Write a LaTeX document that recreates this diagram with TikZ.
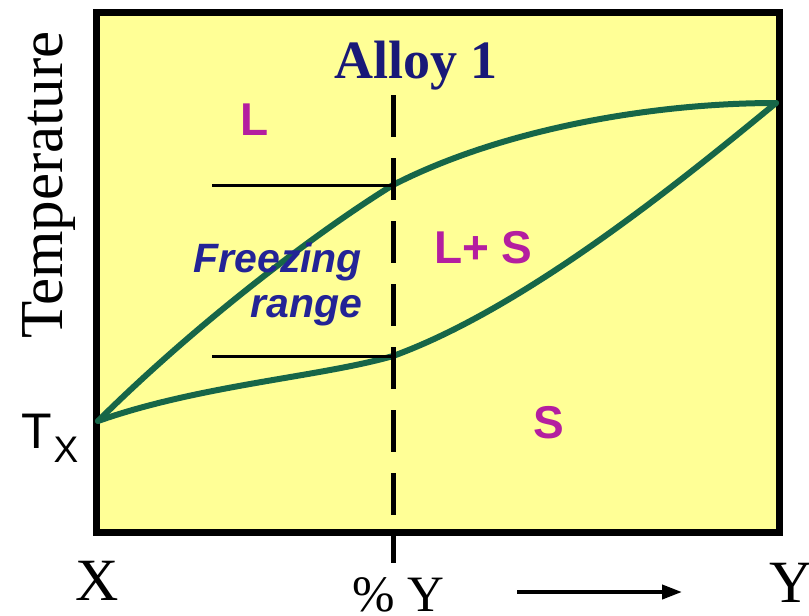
\documentclass[tikz,border=0pt]{standalone}
\usepackage{fontspec}
\setmainfont{Liberation Serif}
\newfontfamily\arialf{Liberation Sans}
\usetikzlibrary{arrows.meta}
\definecolor{boxfill}{RGB}{255,255,150}
\definecolor{curvegreen}{RGB}{22,102,72}
\definecolor{phasemag}{RGB}{180,30,160}
\definecolor{frzblue}{RGB}{35,35,150}
\definecolor{alloyblue}{RGB}{25,25,120}
\begin{document}
\begin{tikzpicture}[x=1pt,y=-1pt,
  lbl/.style={inner sep=0pt, outer sep=0pt},
  curve/.style={curvegreen, line width=6pt, line cap=round, line join=round},
  phase/.style={lbl, anchor=base west, text=phasemag, font=\arialf\bfseries\fontsize{46}{46}\selectfont},
  frz/.style={lbl, anchor=base east, text=frzblue, font=\arialf\bfseries\itshape\fontsize{41}{45}\selectfont},
  axislbl/.style={lbl, font=\fontsize{60}{60}\selectfont}]
\useasboundingbox (0,0) rectangle (809,616);
\coordinate (bl) at (96,532);
\coordinate (tr) at (779,12);
\fill[boxfill] (bl) rectangle (tr);
\draw[line width=7pt] (bl) rectangle (tr);
\coordinate (Tx) at (98,421);
\coordinate (Yt) at (776,103);
\coordinate (Liq) at (393,185);
\coordinate (Sol) at (393,356);
\draw[curve] (Tx) .. controls (200,320) and (320,230) .. (Liq)
                  .. controls (500,130) and (650,103) .. (Yt);
\draw[curve] (Tx) .. controls (200,385) and (320,377) .. (Sol)
                  .. controls (525,308) and (680,182) .. (Yt);
\coordinate (h1) at (212,185);
\coordinate (h2) at (212,356);
\draw[line width=3pt] (h1) -- (Liq);
\draw[line width=3pt] (h2) -- (Sol);
\coordinate (d1) at (393,95);
\coordinate (d2) at (393,563);
\draw[line width=5pt, dash pattern=on 42pt off 21pt] (d1) -- (d2);
\node[lbl, anchor=base, rotate=90, font=\fontsize{61}{61}\selectfont] (temp) at (62,185) {Temperature};
\node[lbl, anchor=base west, font=\arialf\fontsize{50}{50}\selectfont] (tx) at (21,448) {T\kern2pt\raisebox{-14pt}{\fontsize{37}{37}\selectfont X}};
\node[axislbl, anchor=base] (xl) at (97,600) {X};
\node[lbl, anchor=base west, font=\fontsize{51}{51}\selectfont] (py) at (352,611) {\% Y};
\node[axislbl, anchor=base west] (yr) at (769,602) {Y};
\node[lbl, anchor=base, text=alloyblue, font=\bfseries\fontsize{54}{54}\selectfont] (alloy) at (416,78) {Alloy 1};
\node[phase] (pl) at (240,135) {L};
\node[phase] (pls) at (434,263) {L+ S};
\node[phase] (ps) at (533,438) {S};
\node[frz] (f1) at (362,272) {Freezing};
\node[frz] (f2) at (362,317) {range};
\coordinate (a1) at (517,592);
\coordinate (a2) at (682,592);
\draw[line width=4pt, -{Triangle[length=20pt,width=14pt]}] (a1) -- (a2);
\end{tikzpicture}
\end{document}
